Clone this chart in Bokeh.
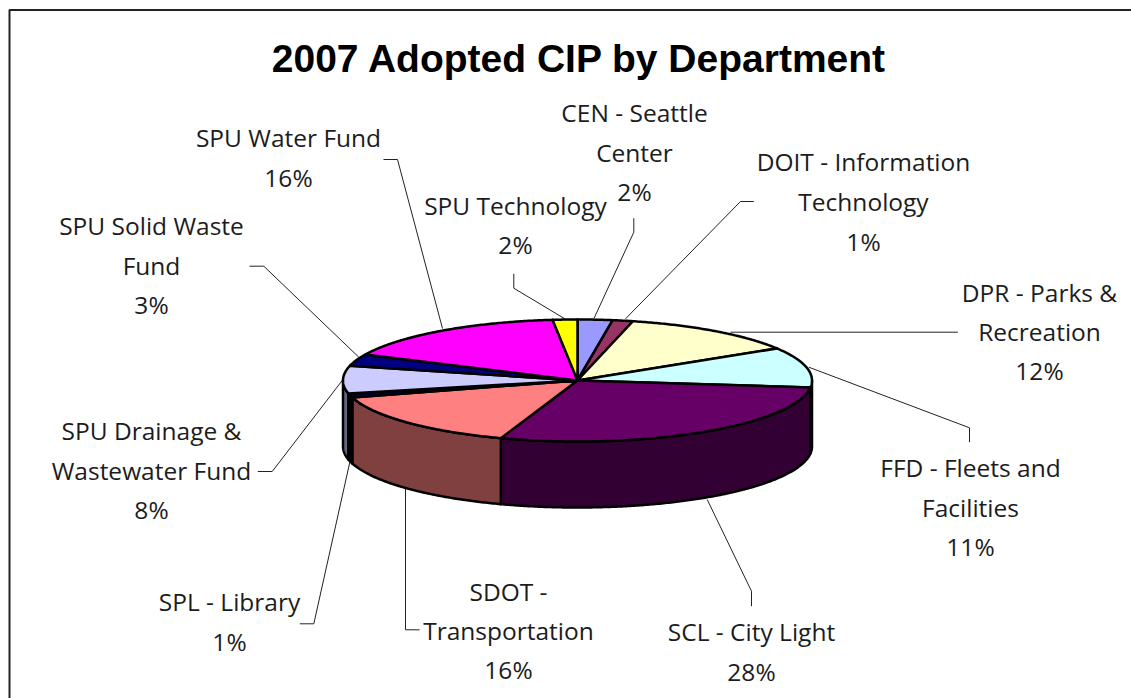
from math import sin, cos, radians
from bokeh.plotting import figure
from bokeh.models import Range1d
from bokeh.core.properties import value
from bokeh.embed import file_html
from bokeh.resources import INLINE

TITLE = "2007 Adopted CIP by Department"
departments = ["CEN - Seattle Center", "DOIT - Information Technology", "DPR - Parks & Recreation",
               "FFD - Fleets and Facilities", "SCL - City Light", "SDOT - Transportation",
               "SPL - Library", "SPU Drainage & Wastewater Fund", "SPU Solid Waste Fund",
               "SPU Water Fund", "SPU Technology"]
shares = [2.4, 1.4, 12.4, 10.6, 28.5, 15.2, 1.1, 7.3, 3.1, 16.3, 1.7]
printed_percent = [2, 1, 12, 11, 28, 16, 1, 8, 3, 16, 2]
top_colors = ["#9999FF", "#993366", "#FFFFCC", "#CCFFFF", "#660066", "#FF8080",
              "#000033", "#CCCCFF", "#000080", "#FF00FF", "#FFFF00"]
side_colors = ["#4D4D80", "#4D1A33", "#808066", "#668080", "#330033", "#804040",
               "#000000", "#666680", "#000040", "#800080", "#808000"]

# layout (in reference-page pixels)
CX, CY, RX, RY, DEPTH = 577, 380, 234.5, 61, 66
FONT, FS = "Open Sans", "24.5px"
INK = "#1c1c1c"
LABEL_SHIFT = -9
label_lines = [
    (["CEN - Seattle", "Center"], 634, [121, 161, 200]),
    (["DOIT - Information", "Technology"], 863, [170, 210, 250]),
    (["DPR - Parks &", "Recreation"], 1039, [301, 340, 379]),
    (["FFD - Fleets and", "Facilities"], 970, [476, 516, 555]),
    (["SCL - City Light"], 751, [640, 680]),
    (["SDOT -", "Transportation"], 508, [600, 639, 678]),
    (["SPL - Library"], 229, [610, 650]),
    (["SPU Drainage &", "Wastewater Fund"], 151, [439, 479, 518]),
    (["SPU Solid Waste", "Fund"], 151, [234, 274, 313]),
    (["SPU Water Fund"], 288, [146, 186]),
    (["SPU Technology"], 515, [214, 253]),
]
leaders = [
    ([633.3, 633.3, 593.3], [217.7, 231.7, 318.3]),
    ([753.3, 740, 625], [201, 201, 318.3]),
    ([957.3, 730], [331.7, 331.7]),
    ([969, 969, 808.3], [441.7, 427.3, 366.7]),
    ([751, 751, 706.7], [605.7, 590.7, 499]),
    ([419, 405, 405], [629.3, 629.3, 486]),
    ([299.3, 313.3, 349.3], [623.3, 623.3, 461.7]),
    ([257.3, 271.7, 341.7], [471, 471, 380]),
    ([249, 263.3, 358.3], [265.7, 265.7, 356.7]),
    ([383, 397, 442], [159, 159, 328]),
    ([513.3, 513.3, 564.3], [273.3, 287.7, 318.3]),
]

p = figure(width=1131, height=698, output_backend="svg", toolbar_location=None,
           x_range=Range1d(0, 1131), y_range=Range1d(698, 0), min_border=0,
           outline_line_color=None, background_fill_color="white", border_fill_color="white")
p.axis.visible = False
p.grid.visible = False


def pt(deg, drop=0.0):
    t = radians(deg)
    return CX + RX * sin(t), CY - RY * cos(t) + drop


def arc(a, b):
    n = max(2, int((b - a) * 2) + 1)
    return [a + (b - a) * i / (n - 1) for i in range(n)]


total = sum(shares)
spans = []
acc = 0.0
for s in shares:
    spans.append((acc / total * 360, (acc + s) / total * 360))
    acc += s

# chart border
p.line([1131, 9, 9], [9.5, 9.5, 698], line_color="#222222", line_width=2)

# leader lines
p.multi_line([l[0] for l in leaders], [l[1] for l in leaders], line_color="#222222", line_width=1)

# front wall of the disc
sx, sy, sc = [], [], []
for (a, b), c in zip(spans, side_colors):
    lo, hi = max(a, 90), min(b, 270)
    if hi <= lo:
        continue
    angs = arc(lo, hi)
    upper = [pt(d) for d in angs]
    lower = [pt(d, DEPTH) for d in reversed(angs)]
    sx.append([q[0] for q in upper + lower])
    sy.append([q[1] for q in upper + lower])
    sc.append(c)
p.patches(sx, sy, fill_color=sc, line_color="black", line_width=2.5, line_join="round")

# top face
tx, ty = [], []
for a, b in spans:
    edge = [pt(d) for d in arc(a, b)]
    tx.append([CX] + [q[0] for q in edge])
    ty.append([CY] + [q[1] for q in edge])
p.patches(tx, ty, fill_color=top_colors, line_color="black", line_width=2.5, line_join="round")

# labels
xs, ys, ts = [], [], []
for (names, cx, bases), pct in zip(label_lines, printed_percent):
    lines = names + [f"{pct}%"]
    for t, b in zip(lines, bases):
        xs.append(cx)
        ys.append(b + LABEL_SHIFT)
        ts.append(t)
p.text(xs, ys, text=ts, text_font=value(FONT), text_font_size=value(FS), text_color=INK,
       text_align="center", text_baseline="alphabetic")
p.text([579], [58], text=[TITLE], text_font=value("Liberation Sans"), text_font_style="bold",
       text_font_size=value("39px"), text_color="black", text_align="center", text_baseline="alphabetic")

open("out.html", "w").write(file_html(p, INLINE))
